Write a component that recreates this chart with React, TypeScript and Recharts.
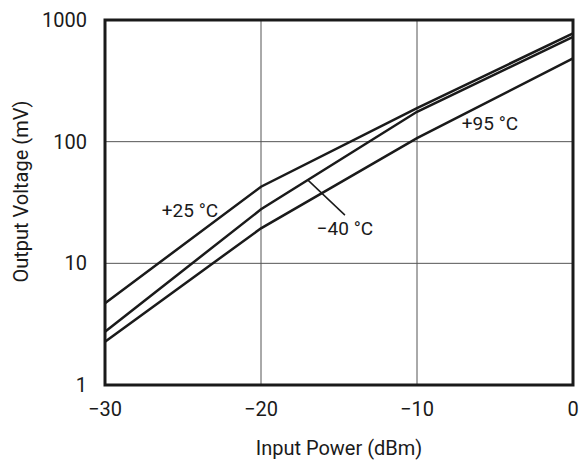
import {
  CartesianGrid,
  Label,
  Line,
  LineChart,
  ReferenceArea,
  ReferenceDot,
  ReferenceLine,
  XAxis,
  YAxis,
} from "recharts";

// Input power steps (dBm) and output voltage (mV) per temperature.
const inputPower = [-30, -20, -10, 0];
const vPlus25 = [4.7, 42.6, 189, 776];
const vMinus40 = [2.74, 27.8, 176, 728];
const vPlus95 = [2.27, 19.4, 107, 483];

const xTicks = [-30, -20, -10, 0];
const yTicks = [1, 10, 100, 1000];

const FONT = "'Liberation Sans Narrow', Roboto, Arial, sans-serif";
const INK = "#1a1a1a";

const data = inputPower.map((x, i) => ({
  x,
  t25: vPlus25[i],
  tm40: vMinus40[i],
  t95: vPlus95[i],
}));

const fmtX = (v: number) => (v < 0 ? `\u2212${-v}` : `${v}`);

function YTitle({ viewBox }: any) {
  const cx = viewBox.x + 21;
  const cy = viewBox.y + viewBox.height / 2 - 11;
  return (
    <text
      x={cx}
      y={cy}
      transform={`rotate(-90, ${cx}, ${cy})`}
      textAnchor="middle"
      dominantBaseline="central"
      fontFamily={FONT}
      fontSize={20}
      fill={INK}
    >
      Output Voltage (mV)
    </text>
  );
}

// small text annotation centred on a reference dot
function note(text: string) {
  return ({ viewBox }: any) => (
    <text
      x={viewBox.x}
      y={viewBox.y}
      textAnchor="middle"
      dominantBaseline="central"
      fontFamily={FONT}
      fontSize={19}
      fill={INK}
    >
      {text}
    </text>
  );
}

export default function App() {
  return (
    <>
      {/* drop the default body margin so the chart fills the 582x460 page */}
      <style>{"body{margin:0}"}</style>
      <LineChart
        width={582}
        height={460}
        data={data}
        margin={{ top: 20, right: 9, bottom: 0, left: 0 }}
        style={{ fontFamily: FONT }}
      >
        <CartesianGrid stroke="#555" strokeWidth={1} />
        <XAxis
          dataKey="x"
          type="number"
          domain={[-30, 0]}
          ticks={xTicks}
          tickFormatter={fmtX}
          height={75}
          axisLine={false}
          tickLine={false}
          tickSize={0}
          tickMargin={17}
          interval={0}
          tick={{ fontSize: 20, fill: INK, fontFamily: FONT }}
        >
          <Label
            value="Input Power (dBm)"
            position="insideBottom"
            offset={5}
            style={{ fontSize: 20, fill: INK, fontFamily: FONT }}
          />
        </XAxis>
        <YAxis
          scale="log"
          domain={[1, 1000]}
          ticks={yTicks}
          allowDataOverflow
          width={105}
          axisLine={false}
          tickLine={false}
          tickSize={0}
          tickMargin={18}
          interval={0}
          tick={{ fontSize: 20, fill: INK, fontFamily: FONT }}
        >
          <Label content={YTitle} />
        </YAxis>
        <Line type="linear" dataKey="t25" stroke={INK} strokeWidth={2.5} dot={false} isAnimationActive={false} />
        <Line type="linear" dataKey="tm40" stroke={INK} strokeWidth={2.5} dot={false} isAnimationActive={false} />
        <Line type="linear" dataKey="t95" stroke={INK} strokeWidth={2.5} dot={false} isAnimationActive={false} />
        <ReferenceLine
          segment={[
            { x: -16.99, y: 48.3 },
            { x: -14.62, y: 24.9 },
          ]}
          stroke={INK}
          strokeWidth={1.5}
        />
        <ReferenceDot x={-24.55} y={27.4} r={0} stroke="none" label={note("+25 \u00b0C")} />
        <ReferenceDot x={-14.62} y={19.5} r={0} stroke="none" label={note("\u221240 \u00b0C")} />
        <ReferenceDot x={-5.32} y={141} r={0} stroke="none" label={note("+95 \u00b0C")} />
        <ReferenceArea
          x1={-30}
          x2={0}
          y1={1}
          y2={1000}
          fill="none"
          stroke={INK}
          strokeWidth={3}
          ifOverflow="visible"
        />
      </LineChart>
    </>
  );
}
